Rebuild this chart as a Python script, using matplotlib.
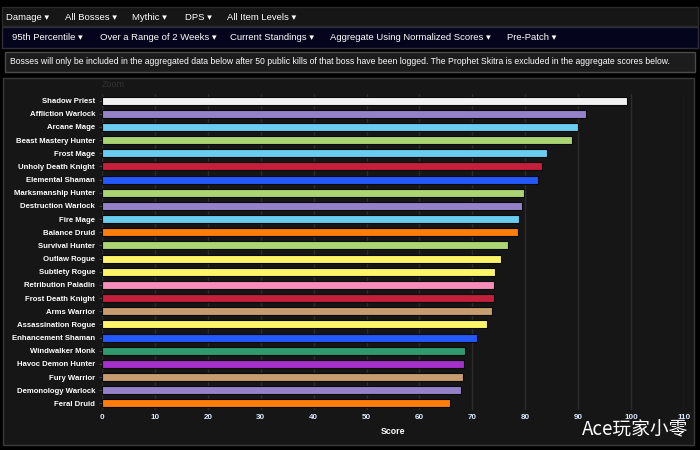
import matplotlib
matplotlib.use("Agg")
import matplotlib.pyplot as plt
from matplotlib.patches import Rectangle

# specs and scores, top to bottom
specs = [
    "Shadow Priest", "Affliction Warlock", "Arcane Mage", "Beast Mastery Hunter",
    "Frost Mage", "Unholy Death Knight", "Elemental Shaman", "Marksmanship Hunter",
    "Destruction Warlock", "Fire Mage", "Balance Druid", "Survival Hunter",
    "Outlaw Rogue", "Subtlety Rogue", "Retribution Paladin", "Frost Death Knight",
    "Arms Warrior", "Assassination Rogue", "Enhancement Shaman", "Windwalker Monk",
    "Havoc Demon Hunter", "Fury Warrior", "Demonology Warlock", "Feral Druid",
]
scores = [99.2, 91.4, 90.0, 88.9, 84.2, 83.2, 82.4, 79.8, 79.3, 78.9, 78.7, 76.7,
          75.4, 74.2, 74.1, 74.0, 73.7, 72.7, 70.9, 68.6, 68.4, 68.2, 67.9, 65.7]
colors = ["#f2f2f2", "#9482c9", "#69ccf0", "#abd473", "#69ccf0", "#c41f3b", "#2459ff",
          "#abd473", "#9482c9", "#69ccf0", "#ff7d0a", "#abd473", "#fff569", "#fff569",
          "#f58cba", "#c41f3b", "#c79c6e", "#fff569", "#2459ff", "#2e9a6e", "#a330c9",
          "#c79c6e", "#9482c9", "#ff7d0a"]

menu1 = ["Damage", "All Bosses", "Mythic", "DPS", "All Item Levels"]
menu1_x = [6, 65, 132, 185, 227]
menu2 = ["95th Percentile", "Over a Range of 2 Weeks", "Current Standings",
         "Aggregate Using Normalized Scores", "Pre-Patch"]
menu2_x = [12, 100, 230, 330, 507]
notice = ("Bosses will only be included in the aggregated data below after 50 public kills "
          "of that boss have been logged. The Prophet Skitra is excluded in the aggregate scores below.")

W, H = 700, 450
FONT = "Liberation Sans"
fig = plt.figure(figsize=(7, 4.5), dpi=100, facecolor="#000000")


def box(x, y, w, h, fc, ec):
    # pixel coords, y from top
    fig.patches.append(Rectangle((x / W, 1 - (y + h) / H), w / W, h / H,
                                 transform=fig.transFigure, facecolor=fc,
                                 edgecolor=ec, linewidth=1, zorder=-10))


def ptext(x, y, s, **kw):
    fig.text(x / W, 1 - y / H, s, va="center", **kw)


# header rows
box(2, 7, 696, 19, "#161616", "#2a2a2a")
for label, x in zip(menu1, menu1_x):
    ptext(x, 17, label + " \u25be", color="white", fontsize=6.8, family=[FONT, "DejaVu Sans"])
box(2, 27, 696, 21, "#04041c", "#2e2e3a")
for label, x in zip(menu2, menu2_x):
    ptext(x, 37, label + " \u25be", color="white", fontsize=6.8, family=[FONT, "DejaVu Sans"])
box(5, 52, 690, 20, "#1c1c1c", "#4a4a4a")
ptext(10, 62, notice, color="white", fontsize=6.25, family=FONT)

# chart panel
box(3, 78, 691, 367, "#161616", "#3a3a3a")

ax = fig.add_axes([102 / W, 1 - 410 / H, 582 / W, 316 / H])
ax.set_facecolor("none")
pos = list(range(len(specs)))
ax.barh(pos, scores, height=0.62, color=colors, edgecolor="#0a0a0a", linewidth=0.8, zorder=3)
ax.set_xlim(0, 110)
ax.set_ylim(len(specs) - 0.5, -0.5)
ax.set_xticks(range(0, 111, 10))
ax.set_yticks(pos)
ax.set_yticklabels(specs)
ax.grid(axis="x", color="#2c2c2c", linewidth=1, zorder=0)
for s in ax.spines.values():
    s.set_visible(False)
ax.tick_params(axis="y", colors="white", labelsize=5.6, length=2, pad=3)
ax.tick_params(axis="y", color="#444444")
ax.tick_params(axis="x", colors="#dde8ff", labelsize=5.8, length=0, pad=3)
for t in ax.get_yticklabels() + ax.get_xticklabels():
    t.set_fontweight("bold")
    t.set_family(FONT)
ax.set_xlabel("Score", color="white", fontsize=6.3, fontweight="bold", labelpad=4, family=FONT)
ax.text(0, -0.85, "Zoom", color="#333333", fontsize=6.5, va="bottom", ha="left", family=FONT)

# watermark
ptext(582, 430, "Ace玩家小零", color="white", fontsize=13.5,
      family=["Noto Sans CJK SC", "DejaVu Sans"])

fig.savefig("out.png", dpi=100, facecolor=fig.get_facecolor())
